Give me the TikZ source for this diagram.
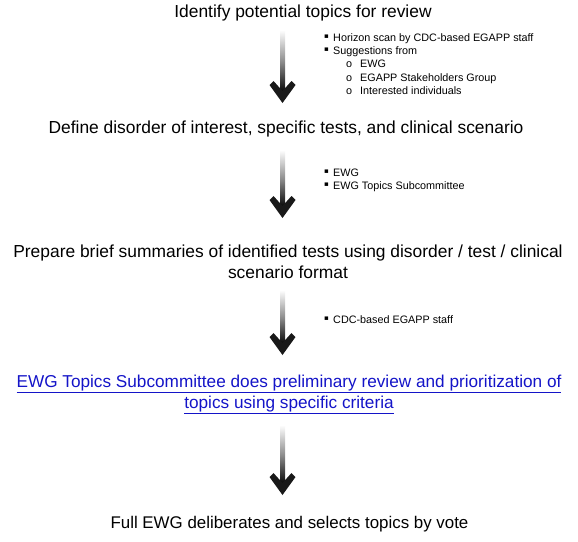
\documentclass[tikz,border=0pt]{standalone}
\usepackage{fontspec}
\setmainfont{Liberation Sans}
\newfontfamily\bulletfont{DejaVu Sans}
\usetikzlibrary{calc}
\definecolor{linkblue}{RGB}{20,20,200}
\newcommand\flowarrow[2]{%
  \shade[top color=white,bottom color=black,middle color=black!45]
    ($(#1)+(-2.5,0)$) rectangle ($(#2)+(2.5,-10)$);
  \fill[black!90] (#2) -- ($(#2)+(-13,-18)$) -- ($(#2)+(-9,-22)$) -- ($(#2)+(0,-12)$)
    -- ($(#2)+(9,-22)$) -- ($(#2)+(13,-18)$) -- cycle;}
\begin{document}
\begin{tikzpicture}[x=1pt,y=-1pt,
  title/.style={anchor=base,inner sep=0pt,font=\fontsize{17.4}{21}\selectfont,align=center},
  link/.style={title,text=linkblue,font=\fontsize{17.2}{21}\selectfont},
  item/.style={anchor=base west,inner sep=0pt,font=\fontsize{10.8}{12}\selectfont},
  bul/.style={anchor=base west,inner sep=0pt,font=\bulletfont\fontsize{7}{12}\selectfont}]
\useasboundingbox (0,0) rectangle (578,541);
% titles
\node[title] (t1) at (303,17.5) {Identify potential topics for review};
\node[title] (t2) at (286,133) {Define disorder of interest, specific tests, and clinical scenario};
\node[title] (t3a) at (288,257) {Prepare brief summaries of identified tests using disorder / test / clinical};
\node[title] (t3b) at (288,278) {scenario format};
\node[link] (t4a) at (289,387.5) {\underline{EWG Topics Subcommittee does preliminary review and prioritization of}};
\node[link] (t4b) at (289,408.5) {\underline{topics using specific criteria}};
\node[title,font=\fontsize{16.9}{21}\selectfont] (t5) at (289.5,528) {Full EWG deliberates and selects topics by vote};
% arrows
\coordinate (a1s) at (282.5,30);  \coordinate (a1e) at (282.5,103);
\coordinate (a2s) at (282.5,150); \coordinate (a2e) at (282.5,218);
\coordinate (a3s) at (282.5,290); \coordinate (a3e) at (282.5,355);
\coordinate (a4s) at (282.5,425); \coordinate (a4e) at (282.5,495);
\flowarrow{a1s}{a1e}
\flowarrow{a2s}{a2e}
\flowarrow{a3s}{a3e}
\flowarrow{a4s}{a4e}
% bullets 1
\node[bul] (p1) at (324,38.5) {▪};
\node[item] (i1) at (333,41.5) {Horizon scan by CDC-based EGAPP staff};
\node[bul] (p2) at (324,51.5) {▪};
\node[item] (i2) at (333,54.5) {Suggestions from};
\node[item] (o1) at (346,67.5) {o};
\node[item] (j1) at (360,67.5) {EWG};
\node[item] (o2) at (346,81) {o};
\node[item] (j2) at (360,81) {EGAPP Stakeholders Group};
\node[item] (o3) at (346,94.5) {o};
\node[item] (j3) at (360,94.5) {Interested individuals};
% bullets 2
\node[bul] (p3) at (324,173.5) {▪};
\node[item] (i3) at (333,176.5) {EWG};
\node[bul] (p4) at (324,186.5) {▪};
\node[item] (i4) at (333,189.5) {EWG Topics Subcommittee};
% bullets 3
\node[bul] (p5) at (324,320.5) {▪};
\node[item] (i5) at (333,323.5) {CDC-based EGAPP staff};
\end{tikzpicture}
\end{document}
